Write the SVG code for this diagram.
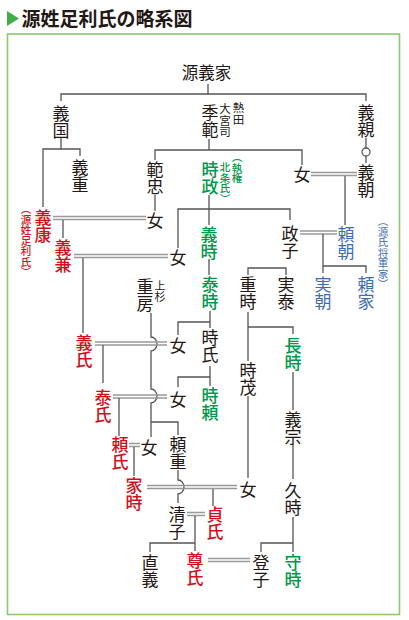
<svg xmlns="http://www.w3.org/2000/svg" width="409" height="620" viewBox="0 0 409 620">
<style>
text{font-family:"Noto Sans CJK JP","Noto Sans CJK SC",sans-serif;}
.v{font-size:17px;writing-mode:vertical-rl;}
.a{font-size:10.5px;writing-mode:vertical-rl;}
.k{fill:#231815;}
.r{fill:#d2101c;font-weight:500;}
.g{fill:#00984a;font-weight:500;}
.b{fill:#3f6db5;}
.ln{fill:none;stroke:#555;stroke-width:1.3;}
.dl{fill:none;stroke:#999;stroke-width:1.5;}
</style>
<rect x="0" y="0" width="409" height="620" fill="#fff"/>
<g id="title">
<polygon points="7,11 19,18.5 7,26" fill="#3fae49"/>
<text x="21.5" y="26" font-size="19" font-weight="bold" fill="#231815">源姓足利氏の略系図</text>
</g>
<rect x="7.5" y="34" width="392" height="580.5" fill="none" stroke="#8dc76e" stroke-width="1.6"/>
<g id="connectors">
<path class="ln" d="M208,84V94M61,101V94H366V101"/>
<path class="ln" d="M61,137V149M43,207V149H80V156"/>
<path class="ln" d="M209,139V150M155,160V150H302V165"/>
<path class="ln" d="M155,195V211"/>
<path class="ln" d="M366,138V148M366,156V163"/>
<circle class="ln" cx="366" cy="152" r="4"/>
<path class="dl" d="M311,172.5H357M311,175.5H357"/>
<path class="ln" d="M345,176V225"/>
<path class="ln" d="M209,195V225M178,248V209H290V220"/>
<path class="dl" d="M53,216.5H146M53,219.5H146"/>
<path class="ln" d="M63,220V238"/>
<path class="dl" d="M74,254.5H168M74,257.5H168"/>
<path class="ln" d="M83,258V333"/>
<path class="dl" d="M300,231H337M300,234H337"/>
<path class="ln" d="M323,234V273M323,266H366V273"/>
<path class="ln" d="M209,259V268M248,275V268H286V275M209,268V275"/>
<path class="ln" d="M151,313V337A6,7 0 0 1 151,351V389A6,7 0 0 1 151,403V437M151,422H178V435"/>
<path class="dl" d="M95,342H167M95,345H167"/>
<path class="ln" d="M103,345V383"/>
<path class="ln" d="M210,311V328M178,335V322H210"/>
<path class="ln" d="M210,366V386M178,387V377H210"/>
<path class="dl" d="M113,395H167M113,398H167"/>
<path class="ln" d="M119,398V436"/>
<path class="ln" d="M248,312V361M248,327H293V334"/>
<path class="ln" d="M293,372V410"/>
<path class="ln" d="M248,396V478"/>
<path class="ln" d="M293,444V479"/>
<path class="dl" d="M129,443.5H140M129,446.5H140"/>
<path class="ln" d="M134,447V476"/>
<path class="ln" d="M178,470V480A6,7 0 0 1 178,494V503"/>
<path class="dl" d="M147,485.5H237M147,488.5H237"/>
<path class="ln" d="M213,489V506"/>
<path class="dl" d="M187,512.5H205M187,515.5H205"/>
<path class="ln" d="M195,516V551M150,552V543H195"/>
<path class="dl" d="M208,558.5H250M208,561.5H250"/>
<path class="ln" d="M293,517V552M261,552V543H293"/>
</g>
<g id="n-yoshiie"><text x="206.5" y="78.5" font-size="16.5" text-anchor="middle" class="k">源義家</text></g>
<g id="n-yoshikuni"><text x="61" y="105" class="v k">義国</text></g>
<g id="n-suenori"><text x="210" y="104" class="v k">季範</text>
<text x="238.5" y="102" class="k" style="font-size:11.5px;writing-mode:vertical-rl">熱田</text>
<text x="225" y="103" class="k" style="font-size:11.5px;writing-mode:vertical-rl">大宮司</text></g>
<g id="n-yoshichika"><text x="366" y="104" class="v k">義親</text></g>
<g id="n-yoshishige"><text x="80" y="159" class="v k">義重</text></g>
<g id="n-noritada"><text x="155" y="161" class="v k">範忠</text></g>
<g id="n-tokimasa"><text x="210" y="161" class="v g">時政</text>
<text x="237" y="152" class="a g">（執権</text>
<text x="225" y="162" class="a g">北条氏）</text></g>
<g id="n-onna1"><text x="302" y="166" class="v k">女</text></g>
<g id="n-yoshitomo"><text x="366" y="164" class="v k">義朝</text></g>
<g id="n-yoshiyasu"><text x="43" y="209" class="v r">義康</text>
<text x="26" y="204" class="a r">（源姓足利氏）</text></g>
<g id="n-onna2"><text x="155" y="212" class="v k">女</text></g>
<g id="n-yoshikane"><text x="63" y="239" class="v r">義兼</text></g>
<g id="n-onna3"><text x="178" y="249" class="v k">女</text></g>
<g id="n-yoshitoki"><text x="209" y="226" class="v g">義時</text></g>
<g id="n-masako"><text x="290" y="225" class="v k">政子</text></g>
<g id="n-yoritomo"><text x="346" y="226" class="v b">頼朝</text>
<text x="383" y="216" class="a b">（源氏将軍家）</text></g>
<g id="n-yasutoki"><text x="210" y="276" class="v g">泰時</text></g>
<g id="n-shigetoki"><text x="248" y="276" class="v k">重時</text></g>
<g id="n-saneyasu"><text x="286" y="276" class="v k">実泰</text></g>
<g id="n-sanetomo"><text x="323" y="276" class="v b">実朝</text></g>
<g id="n-yoriie"><text x="366" y="276" class="v b">頼家</text></g>
<g id="n-shigefusa"><text x="145" y="278" class="v k">重房</text>
<text x="160" y="280" class="k" style="font-size:11px;writing-mode:vertical-rl">上杉</text></g>
<g id="n-onna4"><text x="178" y="337" class="v k">女</text></g>
<g id="n-tokiuji"><text x="210" y="329" class="v k">時氏</text></g>
<g id="n-yoshiuji"><text x="84" y="334" class="v r">義氏</text></g>
<g id="n-nagatoki"><text x="293" y="337" class="v g">長時</text></g>
<g id="n-tokishige"><text x="248" y="362" class="v k">時茂</text></g>
<g id="n-onna5"><text x="178" y="391" class="v k">女</text></g>
<g id="n-tokiyori"><text x="210" y="387" class="v g">時頼</text></g>
<g id="n-yasuuji"><text x="103" y="389" class="v r">泰氏</text></g>
<g id="n-yoshimune"><text x="293" y="411" class="v k">義宗</text></g>
<g id="n-yoriuji"><text x="120" y="436" class="v r">頼氏</text></g>
<g id="n-onna6"><text x="149" y="439" class="v k">女</text></g>
<g id="n-yorishige"><text x="178" y="436" class="v k">頼重</text></g>
<g id="n-ietoki"><text x="134" y="477" class="v r">家時</text></g>
<g id="n-onna7"><text x="248" y="481" class="v k">女</text></g>
<g id="n-hisatoki"><text x="293" y="482" class="v k">久時</text></g>
<g id="n-kiyoko"><text x="177" y="506" class="v k">清子</text></g>
<g id="n-sadauji"><text x="215" y="506" class="v r">貞氏</text></g>
<g id="n-tadayoshi"><text x="150" y="554" class="v k">直義</text></g>
<g id="n-takauji"><text x="195" y="552" class="v r" font-weight="bold">尊氏</text></g>
<g id="n-toshiko"><text x="261" y="554" class="v k">登子</text></g>
<g id="n-moritoki"><text x="293" y="554" class="v g">守時</text></g>
</svg>
